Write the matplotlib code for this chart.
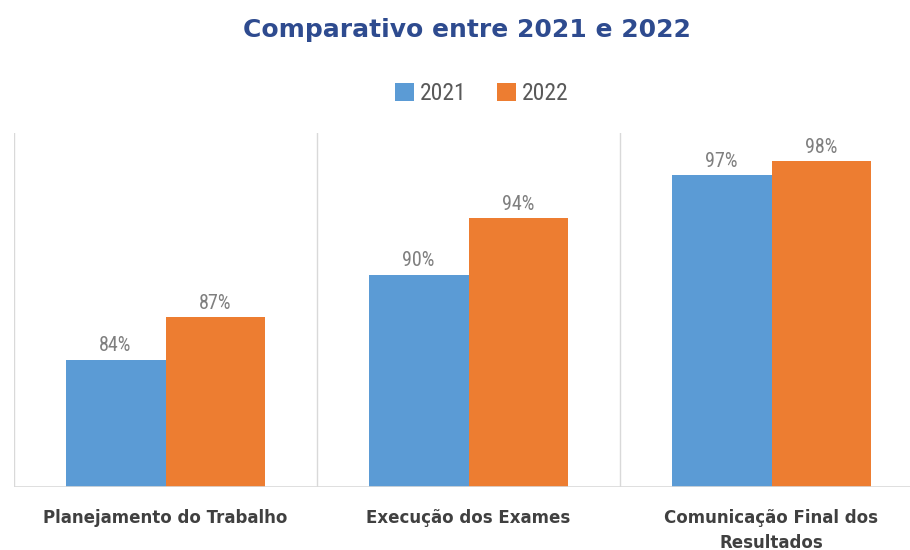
import matplotlib

matplotlib.use("Agg")
import matplotlib.pyplot as plt
import numpy as np
from matplotlib import font_manager

categories = ["Planejamento do Trabalho", "Execução dos Exames",
              "Comunicação Final dos\nResultados"]
years = ["2021", "2022"]
values_2021 = [84, 90, 97]
values_2022 = [87, 94, 98]

BLUE = "#5B9BD5"
ORANGE = "#ED7D31"
GRID = "#D9D9D9"

installed = {f.name for f in font_manager.fontManager.ttflist}
NARROW = [f for f in ("Roboto Condensed", "DejaVu Sans Condensed", "Liberation Sans Narrow")
          if f in installed] + ["DejaVu Sans"]

fig = plt.figure(figsize=(9.1, 5.5), dpi=100)
# plot area runs past the right edge of the canvas
ax = fig.add_axes([14 / 910, 63 / 550, 909 / 910, 354 / 550])

x = np.arange(len(categories))
width = 0.33
bars_a = ax.bar(x - width / 2, values_2021, width, color=BLUE, label=years[0])
bars_b = ax.bar(x + width / 2, values_2022, width, color=ORANGE, label=years[1])

for bars in (bars_a, bars_b):
    for b in bars:
        ax.text(b.get_x() + b.get_width() / 2, b.get_height() + 0.3,
                f"{b.get_height():.0f}%", ha="center", va="bottom",
                fontsize=14.5, color="#7F7F7F", family=NARROW)

ax.set_xlim(-0.5, len(categories) - 0.5)
ax.set_ylim(75, 100)
for sep in np.arange(len(categories) + 1) - 0.5:
    ax.axvline(sep, color=GRID, lw=1, zorder=0)
ax.axhline(75, color=GRID, lw=1.2, zorder=3)

for s in ax.spines.values():
    s.set_visible(False)
ax.set_yticks([])
ax.set_xticks(x)
ax.set_xticklabels(categories, fontsize=12, fontweight="bold", color="#404040",
                   linespacing=1.45)
ax.tick_params(axis="x", length=0, pad=16)

fig.text(467 / 910, 0.945, "Comparativo entre 2021 e 2022", ha="center",
         va="center", fontsize=18, fontweight="bold", color="#2E4B8F")
fig.legend(handles=[bars_a, bars_b], labels=years, loc="center",
           bbox_to_anchor=(482 / 910, 0.83), ncol=2, frameon=False,
           prop={"family": NARROW, "size": 17}, handlelength=0.8,
           handleheight=0.8, handletextpad=0.25, columnspacing=1.3,
           labelcolor="#595959")

fig.savefig("out.png", dpi=100)
